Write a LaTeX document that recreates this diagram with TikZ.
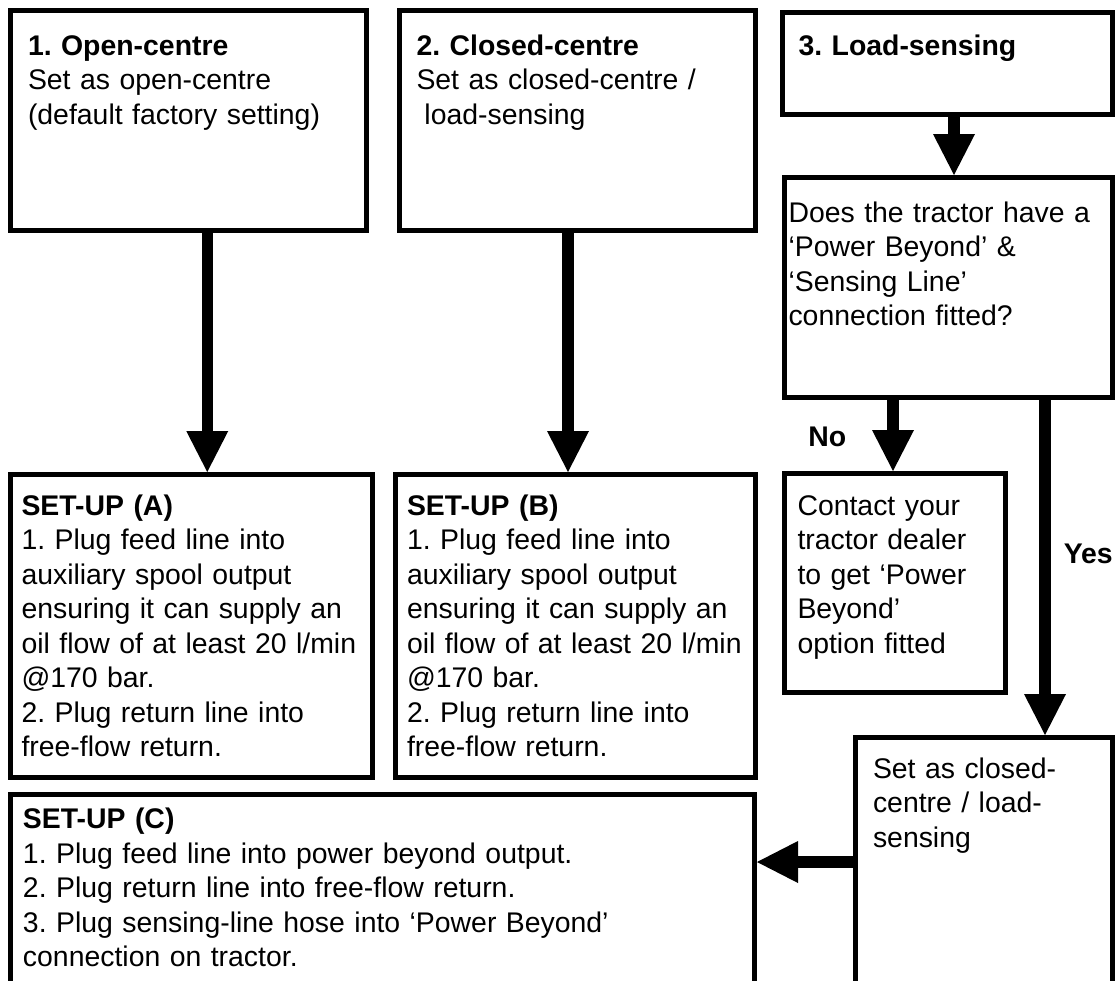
\documentclass[tikz,border=0pt]{standalone}
\usepackage{fontspec}
\setmainfont{Liberation Sans}
\usetikzlibrary{arrows.meta}
\newcommand{\flowfont}{\fontsize{28.4}{34.5}\selectfont\frenchspacing}

\begin{document}
\begin{tikzpicture}[x=1pt,y=-1pt,
                    every node/.style={font=\flowfont},
                    box/.style={draw,line width=5pt,inner ysep=0pt,align=left,anchor=north west},
                    flow/.style={line width=11.5pt,-{Triangle[length=41pt,width=42pt,line width=0pt]}},
                    lbl/.style={font=\flowfont\bfseries,inner sep=0pt}]

  \clip (0,0) rectangle (1116,980);

  % the three hydraulic modes
  \node[box,inner xsep=17.5pt,text width=320.5pt,text height=44.5pt,text depth=175pt] (open) at (8,8)
    {\textbf{1. Open-centre}\\Set as open-centre\\(default factory setting)};
  \node[box,inner xsep=17pt,text width=322pt,text height=44.5pt,text depth=175pt] (closed) at (397,8)
    {\textbf{2. Closed-centre}\\Set as closed-centre /\\\hspace*{.28em}load-sensing};
  \node[box,inner xsep=16pt,text width=298pt,text height=42.5pt,text depth=59.5pt] (load) at (780,10)
    {\textbf{3. Load-sensing}};
  \node[box,inner xsep=4pt,text width=320pt,text height=44.5pt,text depth=175.5pt] (ask) at (782,175)
    {Does the tractor have a\\‘Power Beyond’ \&\\‘Sensing Line’\\connection fitted?};

  % set-ups
  \node[box,inner xsep=11pt,text width=339.5pt,text height=40.5pt,text depth=262pt] (setA) at (8,472)
    {\textbf{SET-UP (A)}\\1. Plug feed line into\\auxiliary spool output\\ensuring it can supply an\\oil flow of at least 20 l/min\\@170 bar.\\2. Plug return line into\\free-flow return.};
  \node[box,inner xsep=12pt,text width=336pt,text height=40.5pt,text depth=262pt] (setB) at (392.5,472)
    {\textbf{SET-UP (B)}\\1. Plug feed line into\\auxiliary spool output\\ensuring it can supply an\\oil flow of at least 20 l/min\\@170 bar.\\2. Plug return line into\\free-flow return.};
  \node[box,inner xsep=13pt,text width=195pt,text height=41.5pt,text depth=177pt] (contact) at (782,471)
    {Contact your\\tractor dealer\\to get ‘Power\\Beyond’\\option fitted};
  \node[box,inner xsep=17.5pt,text width=221.5pt,text height=40.5pt,text depth=208.5pt] (lsset) at (853,735)
    {Set as closed-\\centre / load-\\sensing};
  \node[box,inner xsep=12.5pt,text width=719pt,text height=34pt,text depth=200pt] (setC) at (8,792)
    {\textbf{SET-UP (C)}\\1. Plug feed line into power beyond output.\\2. Plug return line into free-flow return.\\3. Plug sensing-line hose into ‘Power Beyond’\\connection on tractor.};

  \path[flow]
    ([xshift=19pt]open.south) edge ([xshift=19pt]open.south |- setA.north)
    ([xshift=-9.5pt]closed.south) edge ([xshift=-9.5pt]closed.south |- setB.north)
    ([xshift=6.5pt]load.south) edge ([xshift=6.5pt]load.south |- ask.north)
    ([xshift=-2pt]contact.north |- ask.south) edge node[lbl,left=41pt,pos=.52] {No} ([xshift=-2pt]contact.north)
    ([xshift=96.5pt]ask.south) edge node[lbl,right=13pt,pos=.46] {Yes} ([xshift=96.5pt]ask.south |- lsset.north)
    (lsset.west) edge (lsset.west -| setC.east);
\end{tikzpicture}
\end{document}
